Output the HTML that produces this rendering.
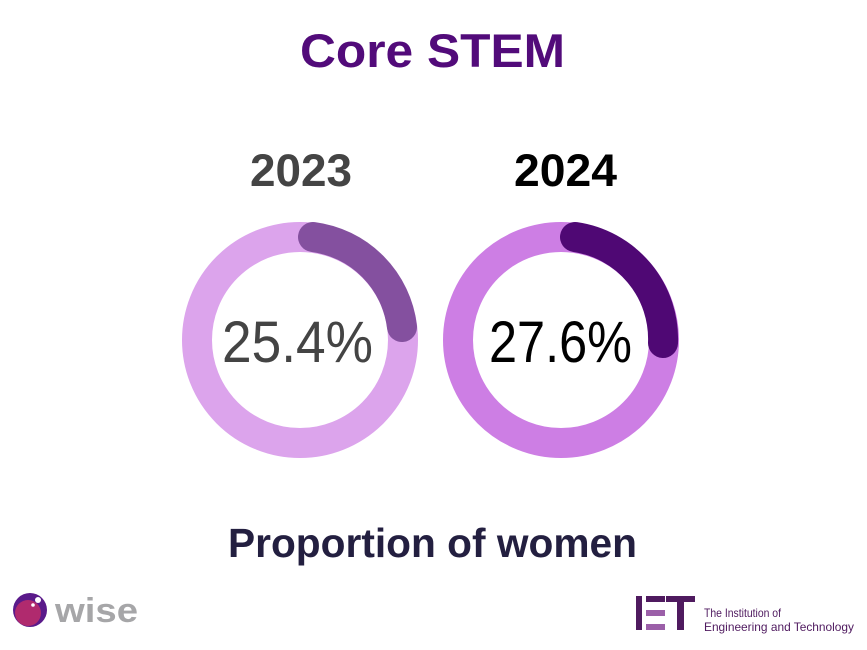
<!DOCTYPE html>
<html><head><meta charset="utf-8"><style>html,body{margin:0;padding:0;background:#fff}svg{display:block}</style></head>
<body>
<svg width="867" height="650" viewBox="0 0 867 650" xmlns="http://www.w3.org/2000/svg" font-family="Liberation Sans, sans-serif">
<rect width="867" height="650" fill="#fff"/>
<text x="300" y="67" font-size="47" font-weight="bold" fill="#520b7a" textLength="265" lengthAdjust="spacingAndGlyphs">Core STEM</text>
<text x="250" y="186" font-size="45" font-weight="bold" fill="#444" textLength="102" lengthAdjust="spacingAndGlyphs">2023</text>
<text x="514" y="186" font-size="45" font-weight="bold" fill="#000" textLength="103" lengthAdjust="spacingAndGlyphs">2024</text>
<circle cx="300" cy="340" r="103" fill="none" stroke="#dca4ec" stroke-width="30"/>
<path d="M313,237 A103,103 0 0 1 402,327" fill="none" stroke="#84509f" stroke-width="30" stroke-linecap="round"/>
<circle cx="561" cy="340" r="103" fill="none" stroke="#cd7ee4" stroke-width="30"/>
<path d="M575,237 A103,103 0 0 1 663,343" fill="none" stroke="#4f0874" stroke-width="30" stroke-linecap="round"/>
<text x="222" y="362" font-size="58" fill="#444" textLength="151" lengthAdjust="spacingAndGlyphs">25.4%</text>
<text x="489" y="362" font-size="58" fill="#000" textLength="143" lengthAdjust="spacingAndGlyphs">27.6%</text>
<text x="228" y="557" font-size="41" font-weight="bold" fill="#231f40" textLength="409" lengthAdjust="spacingAndGlyphs">Proportion of women</text>
<!-- wise logo -->
<circle cx="30" cy="610" r="17" fill="#5a1a8a"/>
<circle cx="28" cy="613" r="13" fill="#b02a6e"/>
<circle cx="38" cy="600" r="3" fill="#fff"/>
<circle cx="33" cy="605" r="1.8" fill="#fff"/>
<text x="55" y="622" font-size="34" font-weight="bold" fill="#a6a6a8" textLength="83" lengthAdjust="spacingAndGlyphs">wise</text>
<!-- IET logo -->
<rect x="636" y="596" width="6" height="34" fill="#4f1a5f"/>
<rect x="646" y="596" width="19" height="6" fill="#4f1a5f"/>
<rect x="646" y="610" width="19" height="6" fill="#9b5fa8"/>
<rect x="646" y="624" width="19" height="6" fill="#9b5fa8"/>
<rect x="666" y="596" width="29" height="6" fill="#4f1a5f"/>
<rect x="677" y="596" width="7" height="34" fill="#4f1a5f"/>
<text x="704" y="617" font-size="12" fill="#4f1a5f" textLength="77" lengthAdjust="spacingAndGlyphs">The Institution of</text>
<text x="704" y="631" font-size="12" fill="#4f1a5f" textLength="150" lengthAdjust="spacingAndGlyphs">Engineering and Technology</text>
</svg>
</body></html>
